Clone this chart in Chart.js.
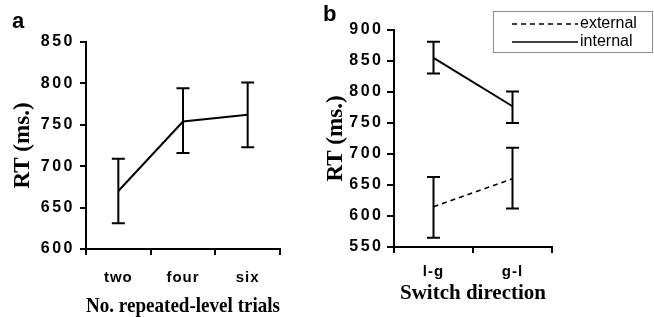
<!DOCTYPE html>
<html>
<head>
<meta charset="utf-8">
<script src="https://cdn.jsdelivr.net/npm/chart.js@4"></script>
<style>
body { margin: 0; background: #fff; width: 654px; height: 317px; overflow: hidden; position: relative; }
canvas { position: absolute; top: 0; }
#chartA { left: 0; }
#chartB { left: 320px; }
.panel { position: absolute; font-family: "Liberation Sans", Arial, sans-serif; font-weight: bold; font-size: 22px; line-height: 1; color: #000; }
</style>
</head>
<body>
<canvas id="chartA" width="320" height="317"></canvas>
<canvas id="chartB" width="334" height="317"></canvas>
<div class="panel" style="left:12px;top:10px">a</div>
<div class="panel" style="left:323px;top:3px">b</div>
<script>
// panel a
const trialLabels = ['two', 'four', 'six'];
const trialRT = [670, 754, 762];
const trialLow = [631, 716, 723];
const trialHigh = [709, 794, 801];

// panel b
const switchLabels = ['l-g', 'g-l'];
const externalRT = [615, 660];
const externalLow = [565, 612];
const externalHigh = [663, 710];
const internalRT = [855, 777];
const internalLow = [830, 750];
const internalHigh = [881, 801];

function spaceLabels(scale, sp) {
    if (scale._spaced) return;
    scale._spaced = true;
    const base = Object.getPrototypeOf(scale).drawLabels;
    scale.drawLabels = function (area) {
        this.ctx.save();
        this.ctx.letterSpacing = sp;
        base.call(this, area);
        this.ctx.restore();
    };
}

const errorBars = {
    id: 'errorBars',
    afterDatasetsDraw(chart) {
        const ctx = chart.ctx;
        const yScale = chart.scales.y;
        chart.data.datasets.forEach((ds, i) => {
            chart.getDatasetMeta(i).data.forEach((pt, j) => {
                const top = yScale.getPixelForValue(ds.errHigh[j]);
                const bot = yScale.getPixelForValue(ds.errLow[j]);
                ctx.save();
                ctx.strokeStyle = '#000';
                ctx.lineWidth = 2;
                ctx.setLineDash([]);
                ctx.beginPath();
                ctx.moveTo(pt.x, top); ctx.lineTo(pt.x, bot);
                ctx.moveTo(pt.x - 6.5, top); ctx.lineTo(pt.x + 6.5, top);
                ctx.moveTo(pt.x - 6.5, bot); ctx.lineTo(pt.x + 6.5, bot);
                ctx.stroke();
                ctx.restore();
            });
        });
    }
};

const lineLegend = {
    id: 'lineLegend',
    afterDraw(chart) {
        const ctx = chart.ctx;
        ctx.save();
        ctx.strokeStyle = '#8c8c8c';
        ctx.lineWidth = 1;
        ctx.strokeRect(173.5, 11.5, 159, 41);
        ctx.font = '16px "Liberation Sans"';
        ctx.textBaseline = 'middle';
        ctx.fillStyle = '#000';
        chart.data.datasets.forEach((ds, i) => {
            const y = 24 + i * 18;
            ctx.strokeStyle = '#000';
            ctx.lineWidth = 1.5;
            ctx.setLineDash(ds.borderDash || []);
            ctx.beginPath();
            ctx.moveTo(192, y);
            ctx.lineTo(258, y);
            ctx.stroke();
            ctx.fillText(ds.label, 260, y);
        });
        ctx.restore();
    }
};

function makeScales(o) {
    return {
        x: {
            offset: true,
            grid: { offset: true, drawOnChartArea: false, color: '#000', lineWidth: 2, tickLength: 6 },
            border: { color: '#000', width: 2 },
            ticks: {
                color: '#000', padding: o.xPad, maxRotation: 0,
                font: { family: 'Liberation Sans', weight: 'bold', size: 15 }
            },
            title: {
                display: true, text: o.xTitle, color: '#000',
                font: { family: 'Liberation Serif', weight: 'bold', size: 21, lineHeight: 1 },
                padding: { top: 0, bottom: o.xTitlePad }
            },
            afterFit(s) { s.height = o.xHeight; spaceLabels(s, '1px'); }
        },
        y: {
            min: o.min, max: o.max,
            grid: { drawOnChartArea: false, color: '#000', lineWidth: 2, tickLength: o.yTick },
            border: { color: '#000', width: 2 },
            ticks: {
                stepSize: 50, color: '#000', padding: o.yPad,
                font: { family: 'Liberation Sans', weight: 'bold', size: 16 }
            },
            title: {
                display: true, text: 'RT (ms.)', color: '#000',
                font: { family: 'Liberation Serif', weight: 'bold', size: 23, lineHeight: 1 },
                padding: { top: o.yTitlePad, bottom: 0 }
            },
            afterFit(s) { s.width = o.yWidth; spaceLabels(s, '2.5px'); }
        }
    };
}

new Chart(document.getElementById('chartA'), {
    type: 'line',
    data: {
        labels: trialLabels,
        datasets: [{
            label: 'RT', data: trialRT, errLow: trialLow, errHigh: trialHigh,
            borderColor: '#000', borderWidth: 2, pointRadius: 0, tension: 0
        }]
    },
    options: {
        responsive: false, animation: false,
        layout: { padding: { left: 0, top: 42, right: 40, bottom: 0 } },
        plugins: { legend: { display: false }, tooltip: { enabled: false } },
        scales: makeScales({
            xTitle: 'No. repeated-level trials', xPad: 14, xTitlePad: 0, xHeight: 68,
            min: 600, max: 850, yTick: 6, yPad: 5, yTitlePad: 12, yWidth: 86
        })
    },
    plugins: [errorBars]
});

new Chart(document.getElementById('chartB'), {
    type: 'line',
    data: {
        labels: switchLabels,
        datasets: [{
            label: 'external', data: externalRT, errLow: externalLow, errHigh: externalHigh,
            borderColor: '#000', borderWidth: 1.5, borderDash: [5, 4], pointRadius: 0, tension: 0
        }, {
            label: 'internal', data: internalRT, errLow: internalLow, errHigh: internalHigh,
            borderColor: '#000', borderWidth: 2, pointRadius: 0, tension: 0
        }]
    },
    options: {
        responsive: false, animation: false,
        layout: { padding: { left: 0, top: 30, right: 102, bottom: 0 } },
        plugins: { legend: { display: false }, tooltip: { enabled: false } },
        scales: makeScales({
            xTitle: 'Switch direction', xPad: 10, xTitlePad: 13, xHeight: 70,
            min: 550, max: 900, yTick: 7, yPad: 3.5, yTitlePad: 5, yWidth: 74
        })
    },
    plugins: [errorBars, lineLegend]
});
</script>
</body>
</html>
